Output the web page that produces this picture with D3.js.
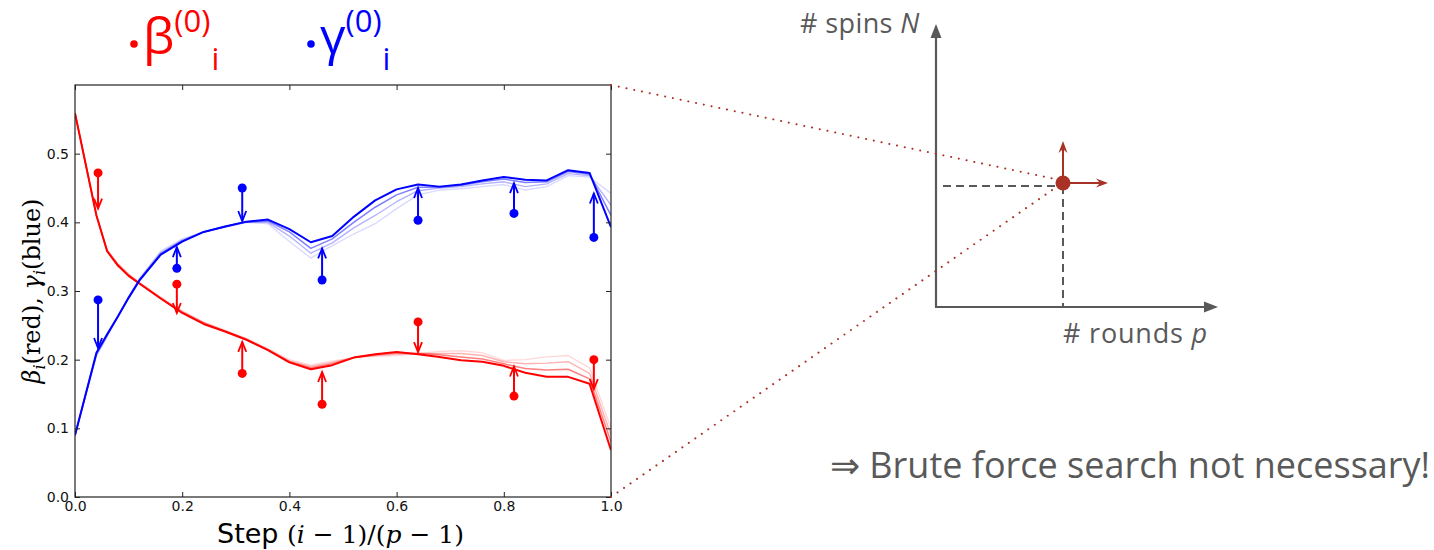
<!DOCTYPE html>
<html><head><meta charset="utf-8">
<script src="https://cdn.jsdelivr.net/npm/d3@7"></script>
<style>body{margin:0;background:#fff} svg{display:block}</style>
</head><body>
<svg id="c" width="1434" height="550"></svg>
<script>
// ---------- data ----------
const steps = [0,0.04,0.06,0.08,0.10,0.12,0.16,0.20,0.24,0.28,0.32,0.36,0.40,0.44,0.48,0.52,0.56,0.60,0.64,0.68,0.72,0.76,0.80,0.84,0.88,0.92,0.96,1.0];
// beta (red) optimized curves, from earliest (faint) to final (solid)
const betaStart = [0.559,0.41,0.360,0.340,0.325,0.313,0.291,0.271,0.255,0.243,0.231,0.216,0.200,0.192,0.198,0.203,0.205,0.206,0.209,0.212,0.213,0.210,0.199,0.200,0.204,0.206,0.188,0.100];
const betaMid1  = [0.559,0.41,0.359,0.339,0.324,0.312,0.290,0.270,0.254,0.242,0.230,0.215,0.198,0.190,0.196,0.203,0.206,0.208,0.209,0.209,0.209,0.206,0.197,0.194,0.195,0.197,0.180,0.090];
const betaMid2  = [0.559,0.41,0.358,0.338,0.323,0.311,0.289,0.269,0.253,0.241,0.229,0.214,0.197,0.188,0.194,0.203,0.207,0.210,0.209,0.207,0.204,0.201,0.194,0.187,0.185,0.186,0.172,0.080];
const betaFinal = [0.559,0.41,0.358,0.337,0.322,0.311,0.289,0.268,0.252,0.241,0.229,0.214,0.196,0.186,0.192,0.203,0.208,0.211,0.208,0.204,0.199,0.197,0.191,0.181,0.175,0.175,0.165,0.068];
// gamma (blue)
const gammaStart = [0.09,0.205,0.233,0.262,0.292,0.318,0.358,0.376,0.386,0.393,0.400,0.398,0.372,0.348,0.366,0.383,0.398,0.420,0.440,0.447,0.449,0.452,0.455,0.447,0.452,0.468,0.466,0.442];
const gammaMid1  = [0.09,0.207,0.235,0.263,0.291,0.317,0.356,0.374,0.386,0.393,0.400,0.400,0.380,0.355,0.370,0.392,0.410,0.430,0.446,0.450,0.452,0.456,0.459,0.452,0.456,0.471,0.468,0.425];
const gammaMid2  = [0.09,0.209,0.236,0.263,0.290,0.316,0.354,0.373,0.386,0.394,0.401,0.402,0.386,0.362,0.376,0.400,0.422,0.440,0.451,0.451,0.454,0.459,0.463,0.458,0.459,0.474,0.470,0.410];
const gammaFinal = [0.09,0.210,0.237,0.263,0.290,0.315,0.353,0.372,0.386,0.394,0.401,0.404,0.390,0.371,0.380,0.408,0.432,0.448,0.455,0.452,0.455,0.461,0.466,0.462,0.461,0.476,0.472,0.393];
// initial guesses (dots) and where the arrows point
const guessX      = [0.043,0.190,0.312,0.461,0.640,0.819,0.968];
const betaGuess   = [0.472,0.310,0.180,0.135,0.255,0.147,0.200];
const betaTip     = [0.420,0.268,0.226,0.182,0.211,0.190,0.157];
const gammaGuess  = [0.287,0.333,0.450,0.316,0.403,0.413,0.378];
const gammaTip    = [0.217,0.364,0.402,0.362,0.450,0.457,0.442];
const xTicks = [0,0.2,0.4,0.6,0.8,1.0];
const xTickLabels = ["0.0","0.2","0.4","0.6","0.8","1.0"];
const yTicks = [0,0.1,0.2,0.3,0.4,0.5];
const yTickLabels = ["0.0","0.1","0.2","0.3","0.4","0.5"];

// ---------- chart ----------
const svg = d3.select("#c");
const L = 75, T = 85, W = 536, H = 412;
const x = d3.scaleLinear().domain([0,1]).range([L, L+W]);
const y = d3.scaleLinear().domain([0,0.6]).range([T+H, T]);
const RED = "#ff0000", BLUE = "#0000ff";

const g = svg.append("g");
const line = d3.line().x((d,i)=>x(steps[i])).y(d=>y(d));
svg.append("clipPath").attr("id","pc").append("rect").attr("x",L).attr("y",T).attr("width",W).attr("height",H);
const curves = g.append("g").attr("clip-path","url(#pc)");
const levels = [[0.15,1.4],[0.3,1.4],[0.5,1.5],[1,2]];
[[betaStart,betaMid1,betaMid2,betaFinal],[gammaStart,gammaMid1,gammaMid2,gammaFinal]].forEach((set,k)=>{
  set.forEach((arr,j)=>{
    curves.append("path").attr("d",line(arr)).attr("fill","none")
      .attr("stroke", k===0?RED:BLUE).attr("stroke-opacity",levels[j][0]).attr("stroke-width",levels[j][1])
      .attr("stroke-linejoin","round");
  });
});

// arrows
function arrow(col, xs, from, to){
  xs.forEach((xv,i)=>{
    const px = x(xv), y0 = y(from[i]), y1 = y(to[i]);
    const dir = y1 < y0 ? 1 : -1;
    g.append("line").attr("x1",px).attr("x2",px).attr("y1",y0).attr("y2",y1)
      .attr("stroke",col).attr("stroke-width",2);
    g.append("path").attr("d",`M${px-4},${y1+dir*10}L${px},${y1}L${px+4},${y1+dir*10}`)
      .attr("fill","none").attr("stroke",col).attr("stroke-width",1.8);
    g.append("circle").attr("cx",px).attr("cy",y0).attr("r",4.5).attr("fill",col);
  });
}
arrow(RED, guessX, betaGuess, betaTip);
arrow(BLUE, guessX, gammaGuess, gammaTip);

// axes (inward ticks, classic style)
const tickFont = "DejaVu Sans, sans-serif";
const ax = svg.append("g").attr("transform",`translate(0,${T+H})`)
  .call(d3.axisBottom(x).tickValues(xTicks).tickFormat((d,i)=>xTickLabels[i]).tickSizeInner(-5).tickSizeOuter(0).tickPadding(4));
const ay = svg.append("g").attr("transform",`translate(${L},0)`)
  .call(d3.axisLeft(y).tickValues(yTicks).tickFormat((d,i)=>yTickLabels[i]).tickSizeInner(-5).tickSizeOuter(0).tickPadding(6));
const axT = svg.append("g").attr("transform",`translate(0,${T})`)
  .call(d3.axisTop(x).tickValues(xTicks).tickFormat("").tickSizeInner(-5).tickSizeOuter(0));
const ayR = svg.append("g").attr("transform",`translate(${L+W},0)`)
  .call(d3.axisRight(y).tickValues(yTicks).tickFormat("").tickSizeInner(-5).tickSizeOuter(0));
[ax,ay,axT,ayR].forEach(a=>{
  a.select(".domain").remove();
  a.selectAll("line").attr("stroke","#222");
  a.selectAll("text").attr("font-family",tickFont).attr("font-size",14).attr("fill","#111");
});
svg.append("rect").attr("x",L).attr("y",T).attr("width",W).attr("height",H)
  .attr("fill","none").attr("stroke","#222").attr("stroke-width",1.2);

// x label
const xl = svg.append("text").attr("x",217).attr("y",543).attr("fill","#000");
xl.append("tspan").attr("font-family","DejaVu Sans, sans-serif").attr("font-size",27).text("Step ");
const mt = xl.append("tspan").attr("font-family","DejaVu Serif, serif").attr("font-size",25);
mt.append("tspan").text("(");
mt.append("tspan").attr("font-style","italic").text("i");
mt.append("tspan").text(" − 1)/(");
mt.append("tspan").attr("font-style","italic").text("p");
mt.append("tspan").text(" − 1)");

// y label
const yl = svg.append("text").attr("transform","translate(40,291) rotate(-90)")
  .attr("text-anchor","middle").attr("font-family","DejaVu Serif, serif").attr("font-size",24).attr("fill","#000");
yl.append("tspan").attr("font-style","italic").text("β");
yl.append("tspan").attr("font-style","italic").attr("font-size",16).attr("dy",5).text("i");
yl.append("tspan").attr("dy",-5).text("(red), ");
yl.append("tspan").attr("font-style","italic").text("γ");
yl.append("tspan").attr("font-style","italic").attr("font-size",16).attr("dy",5).text("i");
yl.append("tspan").attr("dy",-5).text("(blue)");

// legend
function legend(x0, col, sym){
  svg.append("circle").attr("cx",x0).attr("cy",44).attr("r",3.8).attr("fill",col);
  const t = svg.append("text").attr("x",x0+9).attr("y",54).attr("fill",col).attr("font-family","Open Sans, sans-serif");
  t.append("tspan").attr("font-size",50).text(sym);
  t.append("tspan").attr("font-size",31).attr("dy",-22).text("(0)");
  t.append("tspan").attr("font-size",31).attr("dy",38).attr("dx",1).text("i");
}
legend(134, RED, "β");
legend(311, BLUE, "γ");

// ---------- right schematic ----------
const GR = "#595959", BR = "#a93226";
const ox = 936, oy = 307;
svg.append("line").attr("x1",ox).attr("y1",oy).attr("x2",ox).attr("y2",36).attr("stroke",GR).attr("stroke-width",2.2);
svg.append("path").attr("d",`M${ox},24L${ox-5.5},38L${ox+5.5},38Z`).attr("fill",GR);
svg.append("line").attr("x1",ox-1).attr("y1",oy).attr("x2",1206).attr("y2",oy).attr("stroke",GR).attr("stroke-width",2.2);
svg.append("path").attr("d",`M1218,${oy}L1204,${oy-5.5}L1204,${oy+5.5}Z`).attr("fill",GR);
svg.append("text").attr("x",800).attr("y",33).attr("fill",GR).attr("font-family","Open Sans, sans-serif").attr("font-size",27).attr("letter-spacing",0.4)
  .html('# spins <tspan font-style="italic">N</tspan>');
svg.append("text").attr("x",1063).attr("y",343).attr("fill",GR).attr("font-family","Open Sans, sans-serif").attr("font-size",27).attr("letter-spacing",0.8)
  .html('# rounds <tspan font-style="italic">p</tspan>');
const px = 1063, py = 183;
// dotted zoom lines
[[L+W,T],[L+W,T+H]].forEach(p=>{
  svg.append("line").attr("x1",p[0]).attr("y1",p[1]).attr("x2",px-8).attr("y2",p[1]===T? py-4 : py+5)
    .attr("stroke",BR).attr("stroke-width",2).attr("stroke-dasharray","0.1 7.8").attr("stroke-linecap","round");
});
// dashed guides
svg.append("line").attr("x1",943).attr("y1",186).attr("x2",px).attr("y2",186).attr("stroke",GR).attr("stroke-width",2).attr("stroke-dasharray","8 5");
svg.append("line").attr("x1",px).attr("y1",186).attr("x2",px).attr("y2",oy).attr("stroke",GR).attr("stroke-width",2).attr("stroke-dasharray","8 5");
// red arrows + dot
svg.append("line").attr("x1",px).attr("y1",py).attr("x2",px).attr("y2",146).attr("stroke",BR).attr("stroke-width",2);
svg.append("path").attr("d",`M${px},141L${px-4.5},153L${px},149L${px+4.5},153Z`).attr("fill",BR);
svg.append("line").attr("x1",px).attr("y1",py).attr("x2",1103).attr("y2",py).attr("stroke",BR).attr("stroke-width",2);
svg.append("path").attr("d",`M1108,${py}L1096,${py-4.5}L1100,${py}L1096,${py+4.5}Z`).attr("fill",BR);
svg.append("circle").attr("cx",px).attr("cy",py).attr("r",7.5).attr("fill",BR);

svg.append("text").attr("x",830).attr("y",478).attr("fill",GR).attr("font-family","Open Sans, sans-serif").attr("font-size",36)
  .text("⇒ Brute force search not necessary!");
</script>
</body></html>
